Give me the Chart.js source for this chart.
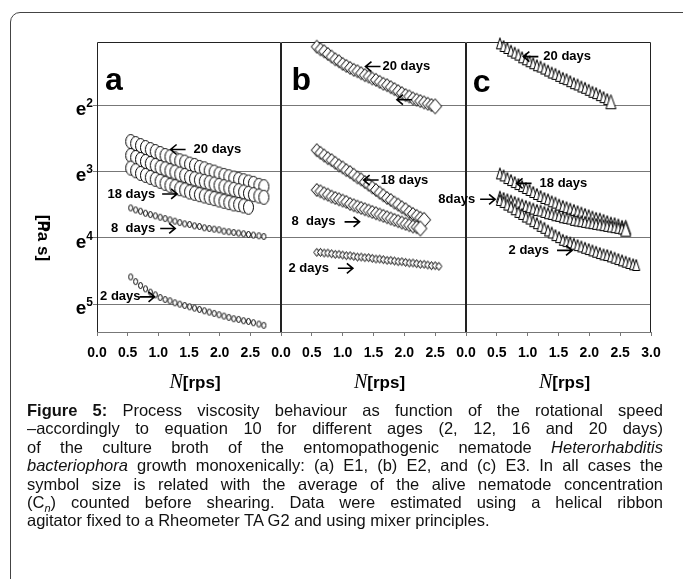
<!DOCTYPE html>
<html>
<head>
<meta charset="utf-8">
<script src="https://cdn.jsdelivr.net/npm/chart.js"></script>
<style>
  body { margin: 0; background: #fff; width: 683px; height: 579px; overflow: hidden; position: relative;
         font-family: "Liberation Sans", Arial, sans-serif; }
  .frame { position: absolute; left: 10px; top: 12px; width: 700px; height: 620px;
           border: 1px solid #444; border-radius: 10px; }
  canvas { position: absolute; left: 0; top: 0; }
  .caption { position: absolute; left: 27px; top: 401px; width: 636px; font-size: 16.5px;
             line-height: 18.4px; color: #111; }
  .caption div { text-align: justify; text-align-last: justify; white-space: nowrap; }
  .caption div.last { text-align-last: left; }
  .caption sub { line-height: 0; font-size: 11px; }
</style>
</head>
<body>
<div class="frame"></div>
<canvas id="panelA" width="683" height="400"></canvas>
<canvas id="panelB" width="683" height="400"></canvas>
<canvas id="panelC" width="683" height="400"></canvas>
<div class="caption">
  <div><b>Figure 5:</b> Process viscosity behaviour as function of the rotational speed</div>
  <div>–accordingly to equation 10 for different ages (2, 12, 16 and 20 days)</div>
  <div>of the culture broth of the entomopathogenic nematode <i>Heterorhabditis</i></div>
  <div><i>bacteriophora</i> growth monoxenically: (a) E1, (b) E2, and (c) E3. In all cases the</div>
  <div>symbol size is related with the average of the alive nematode concentration</div>
  <div>(C<sub><i>n</i></sub>) counted before shearing. Data were estimated using a helical ribbon</div>
  <div class="last">agitator fixed to a Rheometer TA G2 and using mixer principles.</div>
</div>
<script>
// rotational speed N [rps] of the points in each panel
const speedA = [0.55, 0.63, 0.71, 0.79, 0.87, 0.95, 1.03, 1.11, 1.19, 1.27, 1.35, 1.43, 1.51, 1.59,
  1.67, 1.75, 1.83, 1.91, 1.99, 2.07, 2.15, 2.23, 2.31, 2.39, 2.47, 2.55, 2.64, 2.72];
const speedB = [0.58, 0.64, 0.70, 0.76, 0.82, 0.88, 0.94, 1.00, 1.06, 1.12, 1.18, 1.24, 1.30, 1.36,
  1.42, 1.48, 1.54, 1.60, 1.66, 1.72, 1.78, 1.84, 1.90, 1.96, 2.02, 2.08, 2.14, 2.20, 2.26, 2.32,
  2.38, 2.44, 2.50, 2.56];
const speedC = [0.55, 0.61, 0.67, 0.73, 0.79, 0.85, 0.91, 0.97, 1.03, 1.09, 1.15, 1.21, 1.27, 1.33,
  1.39, 1.45, 1.51, 1.57, 1.63, 1.69, 1.75, 1.81, 1.87, 1.93, 1.99, 2.05, 2.11, 2.17, 2.23, 2.29,
  2.35, 2.41, 2.47, 2.53, 2.59, 2.65, 2.71, 2.76];

// viscosity, as the exponent shown on the axis (e^2 ... e^5)
// (a) E1 - circles
const a20 = [2.55, 2.58, 2.61, 2.64, 2.67, 2.70, 2.73, 2.76, 2.78, 2.81, 2.84, 2.86, 2.89, 2.91,
  2.94, 2.96, 2.99, 3.01, 3.04, 3.06, 3.08, 3.10, 3.12, 3.14, 3.16, 3.18, 3.21, 3.23];
const a20b = [2.76, 2.79, 2.82, 2.85, 2.88, 2.91, 2.94, 2.96, 2.99, 3.01, 3.04, 3.06, 3.09, 3.11,
  3.13, 3.15, 3.17, 3.19, 3.21, 3.23, 3.25, 3.27, 3.29, 3.31, 3.33, 3.35, 3.37, 3.39];
const a18 = [2.95, 2.99, 3.03, 3.06, 3.09, 3.12, 3.15, 3.18, 3.21, 3.23, 3.26, 3.28, 3.31, 3.33,
  3.35, 3.37, 3.39, 3.41, 3.43, 3.45, 3.47, 3.49, 3.50, 3.52, 3.54];
const a8 = [3.55, 3.58, 3.60, 3.63, 3.65, 3.67, 3.69, 3.71, 3.73, 3.75, 3.77, 3.79, 3.80, 3.82,
  3.83, 3.85, 3.86, 3.87, 3.88, 3.90, 3.91, 3.92, 3.93, 3.94, 3.95, 3.96, 3.97, 3.98];
const a2 = [4.59, 4.66, 4.72, 4.77, 4.82, 4.86, 4.90, 4.93, 4.95, 4.98, 5.00, 5.02, 5.04, 5.06,
  5.08, 5.10, 5.12, 5.14, 5.16, 5.18, 5.20, 5.22, 5.23, 5.25, 5.26, 5.28, 5.30, 5.32];
// (b) E2 - diamonds
const b20 = [1.12, 1.16, 1.19, 1.23, 1.27, 1.31, 1.34, 1.38, 1.41, 1.44, 1.47, 1.49, 1.52, 1.55,
  1.57, 1.60, 1.62, 1.65, 1.68, 1.70, 1.73, 1.76, 1.79, 1.82, 1.85, 1.87, 1.90, 1.92, 1.94, 1.96,
  1.98, 2.00, 2.02];
const b18 = [2.68, 2.72, 2.76, 2.80, 2.83, 2.87, 2.91, 2.94, 2.98, 3.01, 3.05, 3.09, 3.12, 3.16,
  3.20, 3.24, 3.28, 3.32, 3.36, 3.40, 3.43, 3.47, 3.50, 3.54, 3.57, 3.61, 3.64, 3.67, 3.70, 3.73];
const b8 = [3.28, 3.30, 3.33, 3.35, 3.38, 3.40, 3.42, 3.44, 3.46, 3.49, 3.51, 3.53, 3.55, 3.57,
  3.59, 3.61, 3.63, 3.65, 3.67, 3.69, 3.71, 3.73, 3.75, 3.77, 3.79, 3.81, 3.83, 3.84, 3.86];
const b2 = [4.22, 4.22, 4.23, 4.23, 4.24, 4.25, 4.25, 4.26, 4.27, 4.27, 4.28, 4.29, 4.29, 4.30,
  4.30, 4.31, 4.32, 4.32, 4.33, 4.34, 4.34, 4.35, 4.36, 4.36, 4.37, 4.38, 4.38, 4.39, 4.40, 4.40,
  4.41, 4.42, 4.42, 4.43];
// (c) E3 - triangles
const c20 = [1.07, 1.11, 1.14, 1.18, 1.21, 1.24, 1.28, 1.31, 1.34, 1.37, 1.40, 1.42, 1.45, 1.48,
  1.51, 1.53, 1.56, 1.59, 1.61, 1.64, 1.67, 1.69, 1.72, 1.74, 1.77, 1.80, 1.82, 1.85, 1.88, 1.91,
  1.95];
const c18 = [3.03, 3.06, 3.10, 3.13, 3.16, 3.19, 3.22, 3.25, 3.28, 3.31, 3.34, 3.37, 3.40, 3.42,
  3.45, 3.47, 3.50, 3.52, 3.54, 3.56, 3.58, 3.60, 3.62, 3.64, 3.66, 3.68, 3.70, 3.71, 3.73, 3.75,
  3.77, 3.78, 3.80, 3.82, 3.84];
const c8 = [3.38, 3.40, 3.42, 3.44, 3.46, 3.48, 3.50, 3.52, 3.54, 3.56, 3.58, 3.59, 3.61, 3.63,
  3.64, 3.66, 3.67, 3.69, 3.70, 3.71, 3.73, 3.74, 3.75, 3.76, 3.77, 3.78, 3.79, 3.80, 3.81, 3.82,
  3.83, 3.84, 3.85, 3.86, 3.87];
const c2 = [3.43, 3.46, 3.50, 3.53, 3.57, 3.61, 3.64, 3.68, 3.71, 3.75, 3.78, 3.82, 3.85, 3.89,
  3.92, 3.96, 3.99, 4.03, 4.05, 4.07, 4.09, 4.11, 4.13, 4.15, 4.17, 4.19, 4.21, 4.23, 4.25, 4.26,
  4.28, 4.30, 4.32, 4.34, 4.36, 4.38, 4.40, 4.41];

// tick values and labels
const xTicks = [0, 0.5, 1, 1.5, 2, 2.5, 3];
const xTickLabels = ['0.0', '0.5', '1.0', '1.5', '2.0', '2.5', '3.0'];
const yTicks = [2, 3, 4, 5];
const yTickBase = 'e';
const yTickExps = ['2', '3', '4', '5'];

const SANS = '"Liberation Sans", Arial, sans-serif';

// open markers drawn on a small canvas (the symbols in the figure are stretched)
function marker(shape, w, h) {
  const c = document.createElement('canvas');
  c.width = w + 2;
  c.height = h + 2;
  const g = c.getContext('2d');
  g.translate(1, 1);
  g.beginPath();
  if (shape === 'ellipse') {
    g.ellipse(w / 2, h / 2, w / 2 - 0.5, h / 2 - 0.5, 0, 0, Math.PI * 2);
  } else if (shape === 'diamond') {
    g.moveTo(w / 2, 0.5); g.lineTo(w - 0.5, h / 2); g.lineTo(w / 2, h - 0.5); g.lineTo(0.5, h / 2);
    g.closePath();
  } else {
    g.moveTo(w / 2, 0.5); g.lineTo(w - 0.5, h - 0.5); g.lineTo(0.5, h - 0.5);
    g.closePath();
  }
  g.fillStyle = '#fff';
  g.fill();
  g.lineWidth = 1;
  g.strokeStyle = '#000';
  g.stroke();
  return c;
}

const bigCircle = marker('ellipse', 11, 15);
const smallCircle = marker('ellipse', 5, 7);
const diamond = marker('diamond', 12, 14);
const bigDiamond = marker('diamond', 14, 16);
const smallDiamond = marker('diamond', 7, 9);
const triangle = marker('triangle', 8, 12);
const bigTriangle = marker('triangle', 11, 15);

function arrow(ctx, x0, y, dir) {
  const len = 15, x1 = dir === 'L' ? x0 : x0 + len, x2 = dir === 'L' ? x0 + len : x0;
  ctx.beginPath();
  ctx.moveTo(x2, y);
  ctx.lineTo(x1, y);
  const s = dir === 'L' ? 1 : -1;
  ctx.moveTo(x1 + s * 6, y - 5);
  ctx.lineTo(x1, y);
  ctx.lineTo(x1 + s * 6, y + 5);
  ctx.stroke();
}

// frame, panel letter, notes and axis titles
const panelDeco = {
  id: 'panelDeco',
  beforeDatasetsDraw(chart) {
    const { ctx, chartArea: a } = chart;
    ctx.save();
    ctx.strokeStyle = '#222';
    ctx.lineWidth = 1;
    ctx.beginPath();
    ctx.moveTo(a.left + 0.5, a.bottom);
    ctx.lineTo(a.left + 0.5, a.top + 0.5);
    ctx.lineTo(a.right - 0.5, a.top + 0.5);
    ctx.lineTo(a.right - 0.5, a.bottom);
    ctx.stroke();
    ctx.restore();
  },
  afterDraw(chart, args, o) {
    const { ctx, chartArea: a } = chart;
    const x = chart.scales.x, y = chart.scales.y;
    ctx.save();
    ctx.fillStyle = '#000';
    ctx.strokeStyle = '#000';
    ctx.lineWidth = 1.6;
    ctx.textAlign = 'left';
    ctx.textBaseline = 'alphabetic';
    ctx.font = 'bold 32px ' + SANS;
    ctx.fillText(o.letter, x.getPixelForValue(o.letterAt[0]), y.getPixelForValue(o.letterAt[1]));

    // notes with arrows
    ctx.font = 'bold 13px ' + SANS;
    ctx.textBaseline = 'middle';
    o.notes.forEach(n => {
      const px = x.getPixelForValue(n.x), py = y.getPixelForValue(n.y);
      if (n.dir === 'L') {
        arrow(ctx, px, py, 'L');
        if (n.text) ctx.fillText(n.text, px + 15 + n.gap, py);
      } else {
        ctx.fillText(n.text, px, py);
        arrow(ctx, px + ctx.measureText(n.text).width + n.gap, py, 'R');
      }
    });

    // y tick labels e^2 ... e^5 with raised exponents
    if (o.yTitle) {
      yTicks.forEach((v, i) => {
        const py = y.getPixelForValue(v);
        ctx.textAlign = 'right';
        ctx.textBaseline = 'alphabetic';
        ctx.font = 'bold 12px ' + SANS;
        ctx.fillText(yTickExps[i], a.left - 4, py + 2);
        const we = ctx.measureText(yTickExps[i]).width;
        ctx.font = 'bold 19px ' + SANS;
        ctx.fillText(yTickBase, a.left - 4 - we, py + 10);
      });
    }

    // N[rps] under the panel
    const f1 = 'italic 20px "Liberation Serif", "Times New Roman", serif';
    const f2 = 'bold 17px ' + SANS;
    ctx.textAlign = 'left';
    ctx.font = f1;
    const w1 = ctx.measureText('N').width;
    ctx.font = f2;
    const w2 = ctx.measureText('[rps]').width;
    const cx = (a.left + a.right) / 2 + 6;
    const ty = 383;
    ctx.textBaseline = 'middle';
    ctx.font = f1;
    ctx.fillText('N', cx - (w1 + w2) / 2, ty);
    ctx.font = f2;
    ctx.fillText('[rps]', cx - (w1 + w2) / 2 + w1, ty);

    if (o.yTitle) {
      ctx.translate(43, 238);
      ctx.rotate(Math.PI / 2);
      ctx.textAlign = 'center';
      ctx.font = 'bold 17px ' + SANS;
      ctx.fillText('[Pa s]', 0, 0);
      ctx.font = 'bold 15px ' + SANS;
      ctx.fillText('η', -12, -2);
    }
    ctx.restore();
  }
};

function series(speeds, values, mark, endMark) {
  return {
    data: values.map((v, i) => ({ x: speeds[i], y: v })),
    pointStyle: ctx => (endMark && ctx.dataIndex === values.length - 1) ? endMark : mark,
    pointRadius: 7,
    clip: false
  };
}

function makePanel(id, p) {
  new Chart(document.getElementById(id), {
    type: 'scatter',
    data: { datasets: p.datasets },
    options: {
      responsive: false,
      animation: false,
      layout: { padding: { left: p.left, right: 683 - p.right, top: 42, bottom: 0 } },
      plugins: {
        legend: { display: false },
        tooltip: { enabled: false },
        panelDeco: { letter: p.letter, letterAt: p.letterAt, notes: p.notes, yTitle: p.first }
      },
      scales: {
        x: {
          type: 'linear', min: 0, max: 3,
          afterBuildTicks: s => { s.ticks = xTicks.map(v => ({ value: v })); },
          afterFit: s => { s.height = 68; },
          ticks: {
            callback: v => (v === 3 && !p.last) ? '' : xTickLabels[xTicks.indexOf(v)],
            font: { family: SANS, weight: 'bold', size: 14 },
            color: '#000', padding: 9, maxRotation: 0, autoSkip: false
          },
          grid: { drawOnChartArea: false, tickLength: 4, color: '#777' },
          border: { color: '#777' }
        },
        y: {
          type: 'linear', reverse: true, min: 1.05, max: 5.42,
          afterBuildTicks: s => { s.ticks = yTicks.map(v => ({ value: v })); },
          afterFit: s => { s.width = p.first ? 97 : 0; },
          ticks: { display: false },
          grid: { color: '#777', drawTicks: p.first, tickLength: 4 },
          border: { display: false }
        }
      }
    },
    plugins: [panelDeco]
  });
}

makePanel('panelA', {
  left: 0, right: 281, first: true, last: false,
  letter: 'a', letterAt: [0.13, 1.77],
  datasets: [
    series(speedA, a2, smallCircle),
    series(speedA, a8, smallCircle),
    series(speedA, a18, bigCircle),
    series(speedA, a20b, bigCircle),
    series(speedA, a20, bigCircle)
  ],
  notes: [
    { x: 1.20, y: 2.67, dir: 'L', gap: 8, text: '20 days' },
    { x: 0.17, y: 3.34, dir: 'R', gap: 7, text: '18 days' },
    { x: 0.23, y: 3.86, dir: 'R', gap: 5, text: '8  days' },
    { x: 0.05, y: 4.89, dir: 'R', gap: -1, text: '2 days' }
  ]
});

makePanel('panelB', {
  left: 281, right: 466, first: false, last: false,
  letter: 'b', letterAt: [0.17, 1.77],
  datasets: [
    series(speedB, b2, smallDiamond),
    series(speedB, b8, diamond, bigDiamond),
    series(speedB, b18, diamond, bigDiamond),
    series(speedB, b20, diamond, bigDiamond)
  ],
  notes: [
    { x: 1.37, y: 1.42, dir: 'L', gap: 2, text: '20 days' },
    { x: 1.88, y: 1.92, dir: 'L', gap: 0, text: '' },
    { x: 1.34, y: 3.13, dir: 'L', gap: 2, text: '18 days' },
    { x: 0.17, y: 3.76, dir: 'R', gap: 9, text: '8  days' },
    { x: 0.12, y: 4.46, dir: 'R', gap: 9, text: '2 days' }
  ]
});

makePanel('panelC', {
  left: 466, right: 651, first: false, last: true,
  letter: 'c', letterAt: [0.11, 1.80],
  datasets: [
    series(speedC, c2, triangle),
    series(speedC, c8, triangle, bigTriangle),
    series(speedC, c18, triangle, bigTriangle),
    series(speedC, c20, triangle, bigTriangle)
  ],
  notes: [
    { x: 0.93, y: 1.27, dir: 'L', gap: 5, text: '20 days' },
    { x: 0.82, y: 3.18, dir: 'L', gap: 8, text: '18 days' },
    { x: -0.45, y: 3.42, dir: 'R', gap: 5, text: '8days' },
    { x: 0.69, y: 4.19, dir: 'R', gap: 8, text: '2 days' }
  ]
});
</script>
</body>
</html>
